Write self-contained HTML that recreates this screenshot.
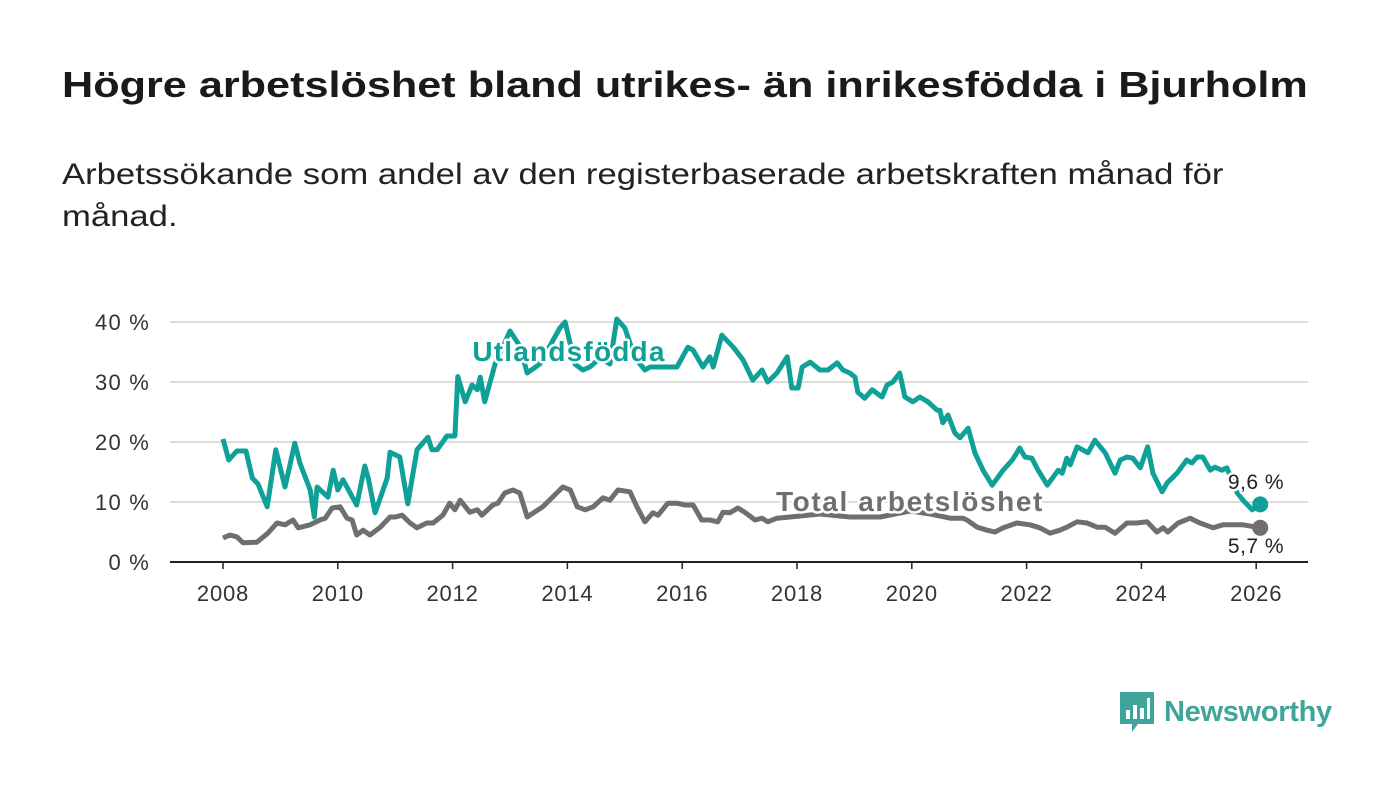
<!DOCTYPE html>
<html><head><meta charset="utf-8">
<style>
body{margin:0;background:#fff;width:1400px;height:794px;overflow:hidden;font-family:"Liberation Sans","DejaVu Sans",sans-serif;}
h1{position:absolute;left:62px;top:64px;margin:0;font-size:36px;font-weight:bold;color:#1a1a1a;white-space:nowrap;transform:scaleX(1.2);transform-origin:left top;}
.sub{position:absolute;left:62px;top:154px;margin:0;font-size:30px;line-height:42px;color:#222;white-space:nowrap;transform:scaleX(1.155);transform-origin:left top;}
svg{position:absolute;left:0;top:0;}
</style></head><body>
<h1>Högre arbetslöshet bland utrikes- än inrikesfödda i Bjurholm</h1>
<p class="sub">Arbetssökande som andel av den registerbaserade arbetskraften månad för<br>månad.</p>
<svg id="chart" width="1400" height="794"></svg>
<script>
const yTicks=[0,10,20,30,40];
const yTickLabels=["0 %","10 %","20 %","30 %","40 %"];
const xTicks=[2008,2010,2012,2014,2016,2018,2020,2022,2024,2026];
const foreignDates=[2008.00,2008.10,2008.24,2008.40,2008.51,2008.61,2008.77,2008.92,2009.08,2009.25,2009.34,2009.52,2009.59,2009.64,2009.83,2009.92,2010.00,2010.09,2010.33,2010.47,2010.53,2010.65,2010.86,2010.91,2011.08,2011.22,2011.38,2011.57,2011.64,2011.73,2011.90,2012.04,2012.09,2012.22,2012.34,2012.43,2012.48,2012.56,2012.74,2013.00,2013.17,2013.30,2013.52,2013.87,2013.96,2014.13,2014.27,2014.39,2014.57,2014.74,2014.86,2015.00,2015.18,2015.35,2015.44,2015.61,2015.91,2016.10,2016.19,2016.36,2016.48,2016.54,2016.69,2016.89,2017.06,2017.23,2017.39,2017.49,2017.65,2017.83,2017.91,2018.02,2018.09,2018.23,2018.40,2018.54,2018.70,2018.80,2018.92,2019.01,2019.06,2019.18,2019.31,2019.48,2019.57,2019.67,2019.79,2019.88,2020.02,2020.14,2020.28,2020.44,2020.49,2020.54,2020.63,2020.75,2020.84,2020.98,2021.10,2021.24,2021.40,2021.59,2021.75,2021.88,2021.97,2022.09,2022.20,2022.36,2022.55,2022.62,2022.70,2022.76,2022.88,2023.07,2023.19,2023.37,2023.54,2023.63,2023.75,2023.85,2023.98,2024.11,2024.20,2024.36,2024.45,2024.62,2024.79,2024.88,2024.97,2025.07,2025.20,2025.28,2025.40,2025.49,2025.67,2025.77,2025.93,2026.07];
const foreignValues=[20.5,17,18.5,18.5,14,13,9.2,18.7,12.5,19.8,16.5,12,7.5,12.5,10.8,15.3,12,13.7,9.5,16,14,8.2,14,18.3,17.5,9.7,18.7,20.8,18.7,18.7,21,21,30.9,26.7,29.5,28.7,30.8,26.7,33,38.5,36,31.5,33,39,40,33,32,32.5,34,33,40.5,39,34,32,32.5,32.5,32.5,35.8,35.3,32.5,34.2,32.5,37.8,35.8,33.7,30.3,32,30,31.5,34.2,29,29,32.5,33.3,32,32,33.2,32,31.5,30.8,28.3,27.3,28.7,27.5,29.5,30,31.5,27.5,26.7,27.5,26.7,25.3,25.3,23.2,24.5,21.5,20.7,22.3,18.2,15.3,12.8,15.3,17,19,17.5,17.3,15.3,12.8,15.3,14.8,17.3,16.2,19.2,18.2,20.3,18.2,14.8,17,17.5,17.3,15.7,19.2,14.8,11.7,13.2,14.8,17,16.5,17.5,17.5,15.3,15.8,15.3,15.7,11.5,10.3,8.7,9.6];
const totalDates=[2008.00,2008.12,2008.24,2008.35,2008.59,2008.78,2008.94,2009.08,2009.22,2009.31,2009.52,2009.69,2009.78,2009.90,2010.04,2010.16,2010.25,2010.33,2010.44,2010.56,2010.74,2010.91,2011.00,2011.12,2011.26,2011.38,2011.55,2011.66,2011.83,2011.95,2012.04,2012.13,2012.30,2012.43,2012.51,2012.70,2012.79,2012.91,2013.05,2013.17,2013.30,2013.49,2013.57,2013.92,2014.05,2014.17,2014.31,2014.45,2014.62,2014.74,2014.88,2015.09,2015.21,2015.35,2015.49,2015.58,2015.75,2015.91,2016.05,2016.19,2016.34,2016.48,2016.62,2016.71,2016.83,2016.97,2017.09,2017.27,2017.39,2017.49,2017.65,2017.88,2018.40,2018.92,2019.45,2019.97,2020.32,2020.67,2020.89,2020.96,2021.14,2021.31,2021.45,2021.59,2021.83,2022.06,2022.23,2022.41,2022.58,2022.70,2022.88,2023.05,2023.23,2023.37,2023.54,2023.75,2023.92,2024.10,2024.27,2024.38,2024.46,2024.64,2024.85,2025.02,2025.25,2025.42,2025.60,2025.77,2026.07];
const totalValues=[4,4.5,4.2,3.2,3.3,4.8,6.5,6.2,7,5.7,6.2,7,7.3,9,9.2,7.3,7,4.5,5.3,4.5,5.8,7.5,7.5,7.8,6.5,5.7,6.5,6.5,7.8,9.8,8.7,10.3,8.3,8.7,7.8,9.5,9.8,11.5,12,11.5,7.5,8.7,9.2,12.5,12,9.2,8.7,9.2,10.7,10.3,12,11.7,9.2,6.7,8.2,7.8,9.8,9.8,9.5,9.5,7,7,6.7,8.3,8.2,9,8.3,7,7.3,6.7,7.3,7.5,8,7.5,7.5,8.5,8,7.3,7.3,7,5.8,5.3,5,5.7,6.5,6.2,5.7,4.8,5.3,5.8,6.7,6.5,5.8,5.8,4.8,6.5,6.5,6.7,5,5.7,5,6.5,7.3,6.5,5.7,6.2,6.2,6.2,5.7];

const NS="http://www.w3.org/2000/svg";
const svg=document.getElementById('chart');
const X0=170,X1=1308,Y0=562;
const xs=y=>223+(y-2008)*57.4;
const ys=v=>Y0-v*6;
function mk(t,a){const e=document.createElementNS(NS,t);for(const k in a)e.setAttribute(k,a[k]);svg.appendChild(e);return e;}
yTicks.forEach((t,i)=>{
  if(t>0){const g=mk('line',{x1:X0,x2:X1,y1:ys(t),y2:ys(t),stroke:'#dcdcdc','stroke-width':2});
  
  }
  const l=mk('text',{x:150,y:ys(t)+8,'text-anchor':'end','font-size':22,'letter-spacing':1.2,fill:'#333'});
  l.textContent=yTickLabels[i];
  
  
});
const ax=mk('line',{x1:X0,x2:X1,y1:Y0,y2:Y0,stroke:'#222','stroke-width':2});


xTicks.forEach(t=>{
  const tk=mk('line',{x1:xs(t),x2:xs(t),y1:Y0,y2:Y0+7,stroke:'#222','stroke-width':1.5});
  
  
  const l=mk('text',{x:xs(t),y:601,'text-anchor':'middle','font-size':22,'letter-spacing':0.8,fill:'#333'});
  l.textContent=t;
  
  
});
function line(d,v){return d.map((x,i)=>(i?'L':'M')+xs(x).toFixed(1)+','+ys(v[i]).toFixed(1)).join('');}
const pt=mk('path',{d:line(totalDates,totalValues),fill:'none',stroke:'#6f6f71','stroke-width':5,'stroke-linejoin':'round'});


const pf=mk('path',{d:line(foreignDates,foreignValues),fill:'none',stroke:'#0fa197','stroke-width':5,'stroke-linejoin':'round'});


const lf=foreignValues.length-1, lt=totalValues.length-1;
const d1=mk('circle',{cx:xs(foreignDates[lf]),cy:ys(foreignValues[lf]),r:8,fill:'#0fa197'});


const d2=mk('circle',{cx:xs(totalDates[lt]),cy:ys(totalValues[lt]),r:8,fill:'#6f6f71'});


function lab(txt,x,y,c,sz,w,ls,name){
  const t=mk('text',{x:x,y:y,'text-anchor':'middle','font-size':sz,'font-weight':w,'letter-spacing':ls,fill:c,stroke:'#fff','stroke-width':5,'paint-order':'stroke','stroke-linejoin':'round'});
  t.textContent=txt;
  
  
}
lab('Utlandsfödda',569,361,'#0fa197',28,'bold',1.2,'foreign-born-label');
lab('Total arbetslöshet',910,511,'#6f6f71',28,'bold',1.6,'total-label');
lab(String(foreignValues[lf]).replace('.',',')+' %',1256,489,'#222',21,'normal',0.5,'foreign-born-end-value');
lab(String(totalValues[lt]).replace('.',',')+' %',1256,553,'#222',21,'normal',0.5,'total-end-value');
</script>
<div style="position:absolute;left:1118px;top:690px;height:44px;display:flex;align-items:center;">
  <svg width="38" height="44" viewBox="0 0 38 44" style="position:static"><path d="M2 2h34v32H20l-6 8v-8H2z" fill="#3fa59a"/><rect x="8" y="20" width="4" height="9" fill="#fff"/><rect x="15" y="15" width="4" height="14" fill="#fff"/><rect x="22" y="18" width="4" height="11" fill="#fff"/><rect x="29" y="8" width="3" height="21" fill="#fff"/></svg>
  <span style="font-size:29px;font-weight:bold;color:#3fa59a;margin-left:8px;letter-spacing:-0.3px">Newsworthy</span>
</div>
</body></html>
